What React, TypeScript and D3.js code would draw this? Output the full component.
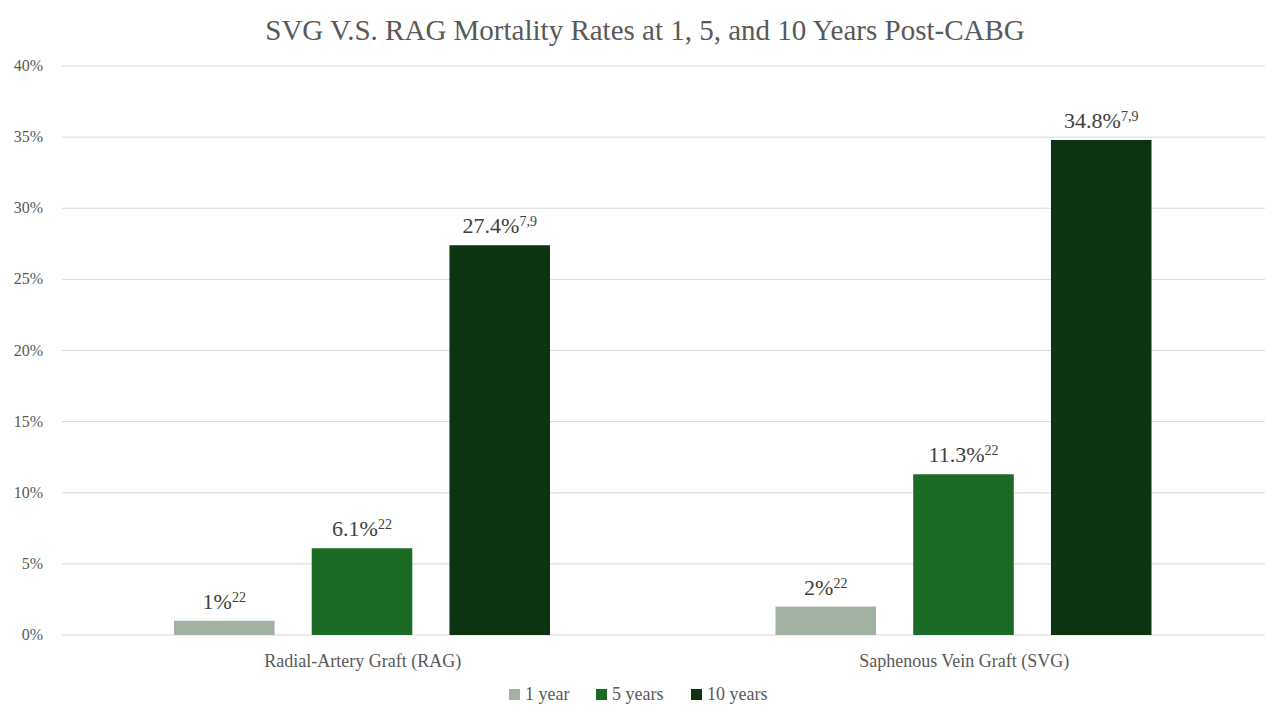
import React, { useEffect, useRef } from "react";
import * as d3 from "d3";

const categories = ["Radial-Artery Graft (RAG)", "Saphenous Vein Graft (SVG)"];
const seriesNames = ["1 year", "5 years", "10 years"];
const seriesColors = ["#a2b2a2", "#1b6b26", "#0c3413"];
const values = [
  [1, 6.1, 27.4],
  [2, 11.3, 34.8],
];
const labelMain = [
  ["1%", "6.1%", "27.4%"],
  ["2%", "11.3%", "34.8%"],
];
const labelSup = [
  ["22", "22", "7,9"],
  ["22", "22", "7,9"],
];
const yTicks = [0, 5, 10, 15, 20, 25, 30, 35, 40];

const App: React.FC = () => {
  const svgRef = useRef<SVGSVGElement | null>(null);

  useEffect(() => {
    const svg = d3.select(svgRef.current);
    svg.selectAll("*").remove();
    const w = 1280, h = 720;
    const m = { top: 66, right: 15, bottom: 85, left: 62 };
    const font = "'Liberation Serif', 'Times New Roman', serif";

    svg.attr("width", w).attr("height", h).style("background", "#fff").style("font-family", font);

    const y = d3.scaleLinear().domain([0, 40]).range([h - m.bottom, m.top]);
    const x0 = d3.scaleBand().domain(categories).range([m.left, w - m.right]);
    const x1 = d3.scaleBand().domain(seriesNames).range([112, 488]).paddingInner(0.27);

    // grid
    svg.append("g").selectAll("line").data(yTicks).enter().append("line")
      .attr("x1", m.left).attr("x2", w - m.right)
      .attr("y1", d => y(d)).attr("y2", d => y(d))
      .attr("stroke", "#d9d9d9").attr("stroke-width", 1);

    svg.append("g").selectAll("text").data(yTicks).enter().append("text")
      .attr("x", 43).attr("y", d => y(d) + 5)
      .attr("text-anchor", "end").attr("fill", "#595959").style("font-size", "16px")
      .text(d => `${d}%`);

    // title
    svg.append("text").attr("x", w / 2 + 5).attr("y", 40).attr("text-anchor", "middle")
      .attr("fill", "#595959").style("font-size", "29px")
      .text("SVG V.S. RAG Mortality Rates at 1, 5, and 10 Years Post-CABG");

    categories.forEach((c, ci) => {
      const gx = x0(c)!;
      seriesNames.forEach((s, si) => {
        const bx = gx + x1(s)!;
        const v = values[ci][si];
        svg.append("rect").attr("x", bx).attr("y", y(v))
          .attr("width", x1.bandwidth()).attr("height", y(0) - y(v))
          .attr("fill", seriesColors[si]);
        const t = svg.append("text").attr("x", bx + x1.bandwidth() / 2).attr("y", y(v) - 12)
          .attr("text-anchor", "middle").attr("fill", "#404040").style("font-size", "22px");
        t.append("tspan").text(labelMain[ci][si]);
        t.append("tspan").attr("dy", -7).style("font-size", "14px").text(labelSup[ci][si]);
      });
      svg.append("text").attr("x", gx + x0.bandwidth() / 2).attr("y", h - m.bottom + 32)
        .attr("text-anchor", "middle").attr("fill", "#595959").style("font-size", "18px").text(c);
    });

    // legend
    const legendX = [509, 596, 691];
    seriesNames.forEach((s, i) => {
      const g = svg.append("g").attr("transform", `translate(${legendX[i]}, 689)`);
      g.append("rect").attr("width", 11).attr("height", 11).attr("fill", seriesColors[i]);
      g.append("text").attr("x", 16).attr("y", 11).attr("fill", "#595959")
        .style("font-size", "18px").text(s);
    });
  }, []);

  return <svg ref={svgRef} style={{ display: "block", margin: "-8px" }}></svg>;
};

export default App;
